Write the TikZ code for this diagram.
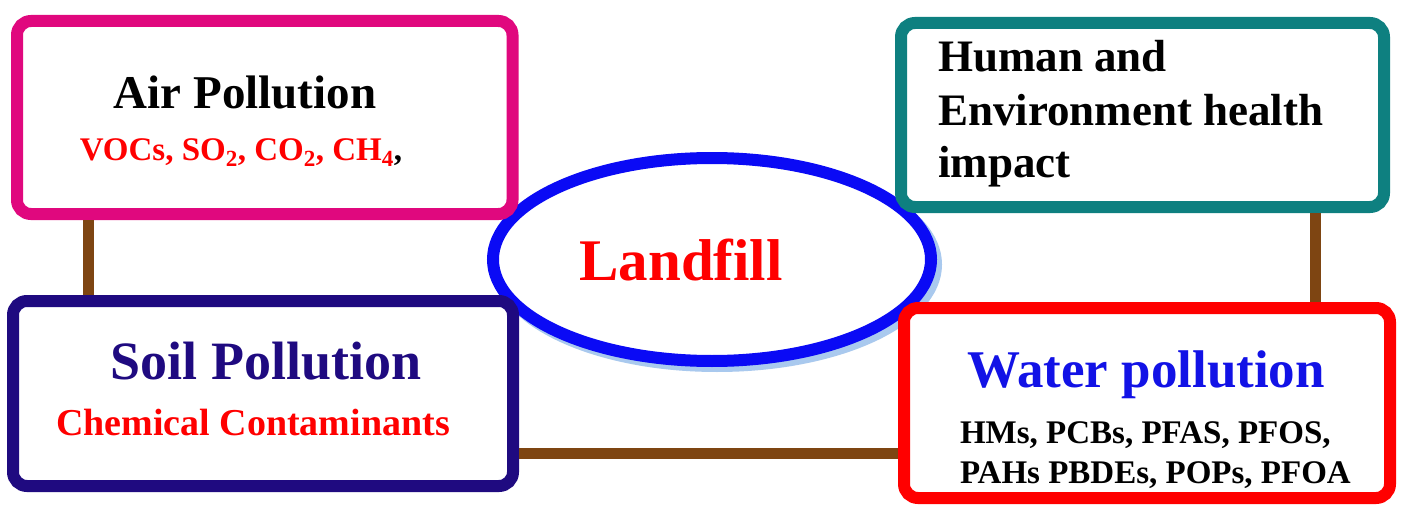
\documentclass[tikz,border=0pt]{standalone}
\usepackage{fontspec}
\setmainfont{Liberation Serif}
\usetikzlibrary{shapes.geometric}
\definecolor{magentaB}{HTML}{E0087E}
\definecolor{navyB}{HTML}{1F0A80}
\definecolor{tealB}{HTML}{0E8080}
\definecolor{redB}{HTML}{FF0000}
\definecolor{blueE}{HTML}{0A0AF5}
\definecolor{shadowB}{HTML}{A9C9EE}
\definecolor{brownC}{HTML}{7E4512}
\definecolor{waterT}{HTML}{1212E6}
\tikzset{
  box/.style={rectangle, rounded corners=14pt, line width=12pt, fill=white, inner sep=0pt},
  conn/.style={draw=brownC, line width=11pt},
  txt/.style={inner sep=0pt, outer sep=0pt, font=\bfseries},
}
\begin{document}
\begin{tikzpicture}[x=1pt, y=-1pt]
\useasboundingbox[fill=white] (0,0) rectangle (1409,519);
% landfill ellipse with shadow
\node[ellipse, draw=shadowB, line width=12pt, minimum width=438pt, minimum height=203pt, inner sep=0pt] (lfshadow) at (717,264.5) {};
\node[ellipse, draw=blueE, fill=white, line width=12pt, minimum width=438pt, minimum height=203pt, inner sep=0pt] (landfill) at (712,259.5) {};
% boxes
\node[box, draw=magentaB, minimum width=495.5pt, minimum height=193pt] (air) at (264.75,117.5) {};
\node[box, draw=navyB, minimum width=500pt, minimum height=185pt] (soil) at (263,393.5) {};
\node[box, draw=tealB, minimum width=483pt, minimum height=184pt] (human) at (1142.5,115) {};
\node[box, draw=redB, minimum width=486pt, minimum height=190pt] (water) at (1147,403) {};
% connectors
\coordinate (cL) at (88,0);
\coordinate (cR) at (1315,0);
\coordinate (cB) at (0,453.5);
\draw[conn] (air.south -| cL) -- (soil.north -| cL);
\draw[conn] (human.south -| cR) -- (water.north -| cR);
\draw[conn] (soil.east |- cB) -- (water.west |- cB);
% texts
\node[txt, anchor=base, text=redB, font=\bfseries\fontsize{59}{70}\selectfont] (lftext) at (681,280) {Landf\kern0pt ill};
\node[txt, anchor=base, text=black, font=\bfseries\fontsize{47}{56}\selectfont] (airt) at (245,108) {Air Pollution};
\node[txt, anchor=base, text=redB, font=\bfseries\fontsize{33}{40}\selectfont] (airs) at (241,160) {VOCs, SO\textsubscript{2}, CO\textsubscript{2}, CH\textsubscript{4}{\color{black},}};
\node[txt, anchor=base west, text=black, font=\bfseries\fontsize{45}{53}\selectfont] (hum1) at (938,72) {Human and};
\node[txt, anchor=base west, text=black, font=\bfseries\fontsize{45}{53}\selectfont] (hum2) at (938,125) {Environment health};
\node[txt, anchor=base west, text=black, font=\bfseries\fontsize{45}{53}\selectfont] (hum3) at (938,177) {impact};
\node[txt, anchor=base, text=navyB, font=\bfseries\fontsize{54}{64}\selectfont] (soilt) at (266,379) {Soil Pollution};
\node[txt, anchor=base, text=redB, font=\bfseries\fontsize{38}{46}\selectfont] (soils) at (253,435) {Chemical Contaminants};
\node[txt, anchor=base, text=waterT, font=\bfseries\fontsize{53}{64}\selectfont] (watert) at (1146,387) {Water pollution};
\node[txt, anchor=base west, text=black, font=\bfseries\fontsize{33}{40}\selectfont] (wl1) at (960,443) {HMs, PCBs, PFAS, PFOS,};
\node[txt, anchor=base west, text=black, font=\bfseries\fontsize{33}{40}\selectfont] (wl2) at (960,483) {PAHs PBDEs, POPs, PFOA};
\end{tikzpicture}
\end{document}
